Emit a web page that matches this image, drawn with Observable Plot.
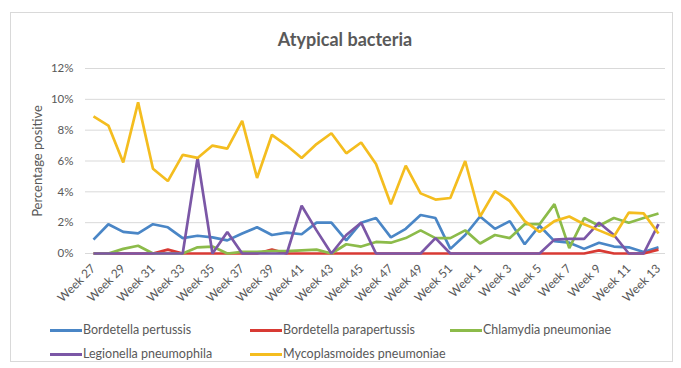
<!DOCTYPE html>
<html>
<head>
<meta charset="utf-8">
<script src="https://cdn.jsdelivr.net/npm/d3@7"></script>
<script src="https://cdn.jsdelivr.net/npm/@observablehq/plot@0.6"></script>
<style>
  html, body { margin: 0; padding: 0; background: #fff; font-family: Lato, "Open Sans", sans-serif; }
  #wrap { position: relative; width: 681px; height: 368px; overflow: hidden; background: #fff; }
  #frame { position: absolute; left: 10px; top: 12px; width: 663px; height: 350px; border: 1px solid #d9d9d9; box-sizing: border-box; }
  #title { position: absolute; left: 0; width: 690px; top: 28px; text-align: center; font-size: 18px; font-weight: 700; color: #595959; }
  #chart { position: absolute; left: 0; top: 0; }
  .leg { position: absolute; font-size: 12.5px; color: #595959; display: flex; align-items: center; white-space: nowrap; line-height: 1; }
  .leg .sw { display: inline-block; width: 32px; height: 3px; margin-right: 1px; }
</style>
</head>
<body>
<div id="wrap">
  <div id="frame"></div>
  <div id="title">Atypical bacteria</div>
  <div id="chart"></div>
  <div id="legend"></div>
</div>
<script>
const weeks = ["Week 27","Week 28","Week 29","Week 30","Week 31","Week 32","Week 33","Week 34","Week 35","Week 36",
  "Week 37","Week 38","Week 39","Week 40","Week 41","Week 42","Week 43","Week 44","Week 45","Week 46",
  "Week 47","Week 48","Week 49","Week 50","Week 51","Week 52","Week 1","Week 2","Week 3","Week 4",
  "Week 5","Week 6","Week 7","Week 8","Week 9","Week 10","Week 11","Week 12","Week 13"];
const xTickLabels = ["Week 27","Week 29","Week 31","Week 33","Week 35","Week 37","Week 39","Week 41","Week 43","Week 45",
  "Week 47","Week 49","Week 51","Week 1","Week 3","Week 5","Week 7","Week 9","Week 11","Week 13"];
const yTicks = [0, 2, 4, 6, 8, 10, 12];
const yLabel = "Percentage positive";

const seriesNames = ["Bordetella pertussis", "Bordetella parapertussis", "Chlamydia pneumoniae", "Legionella pneumophila", "Mycoplasmoides pneumoniae"];
const seriesColors = ["#4a86c6", "#d83a34", "#8cbb4a", "#7b57a6", "#f4bd1f"];

const pertussis = [0.9,1.9,1.4,1.3,1.9,1.7,1.0,1.15,1.05,0.85,1.3,1.7,1.2,1.35,1.25,2.0,2.0,0.85,2.0,2.3,1.05,1.6,2.5,2.3,0.3,1.2,2.4,1.6,2.1,0.6,1.8,0.8,0.7,0.3,0.7,0.45,0.4,0.1,0.4];
const parapertussis = [0,0,0,0,0,0.25,0,0,0,0,0,0,0.25,0,0,0,0,0,0,0,0,0,0,0,0,0,0,0,0,0,0,0,0,0,0.2,0,0,0,0.25];
const chlamydia = [0,0,0.3,0.5,0,0,0,0.4,0.45,0,0.1,0.1,0.15,0.15,0.2,0.25,0,0.6,0.45,0.75,0.7,1.0,1.5,1.0,1.0,1.5,0.65,1.2,1.0,1.9,1.9,3.2,0.35,2.3,1.8,2.3,2.0,2.3,2.6];
const legionella = [0,0,0,0,0,0,0,6.2,0,1.4,0,0,0,0,3.1,1.5,0,1.2,2.0,0,0,0,0,1.0,0,0,0,0,0,0,0,0.9,0.95,0.95,2.0,1.2,0,0,1.9];
const mycoplasma = [8.9,8.3,5.9,9.8,5.5,4.7,6.4,6.2,7.0,6.8,8.6,4.9,7.7,7.0,6.2,7.1,7.8,6.5,7.2,5.8,3.2,5.7,3.9,3.5,3.6,6.0,2.4,4.05,3.4,2.1,1.4,2.1,2.4,1.9,1.5,1.1,2.65,2.6,1.3];

const seriesValues = [pertussis, parapertussis, chlamydia, legionella, mycoplasma];
const data = [];
seriesValues.forEach((vals, s) => vals.forEach((v, i) => data.push({week: weeks[i], value: v, series: seriesNames[s]})));

const chart = Plot.plot({
  width: 681,
  height: 320,
  marginTop: 68,
  marginBottom: 67,
  marginLeft: 93,
  marginRight: 23,
  style: {fontFamily: "Lato, 'Open Sans', sans-serif", background: "transparent", overflow: "visible", color: "#595959"},
  x: {type: "point", domain: weeks, padding: 0},
  y: {domain: [0, 12]},
  color: {domain: seriesNames, range: seriesColors},
  marks: [
    Plot.ruleY(yTicks, {stroke: "#d9d9d9", strokeWidth: 1, insetLeft: -8, insetRight: -7}),
    Plot.axisY({ticks: yTicks, tickSize: 0, tickPadding: 20, tickFormat: d => d + "%", fontSize: 11.5, fill: "#595959", label: null}),
    Plot.text([yLabel], {text: d => d, frameAnchor: "left", textAnchor: "middle", rotate: -90, dx: -56, fontSize: 13, fill: "#595959"}),
    Plot.axisX({ticks: xTickLabels, tickSize: 0, tickRotate: -45, tickPadding: 13, fontSize: 12, fill: "#595959", label: null}),
    Plot.lineY(data, {x: "week", y: "value", stroke: "series", z: "series", strokeWidth: 2.7, strokeLinejoin: "miter", strokeLinecap: "butt"})
  ]
});
document.getElementById("chart").appendChild(chart);

// legend
const legendPos = [[50, 331], [250, 331], [450, 331], [50, 355], [250, 355]];
const legend = document.getElementById("legend");
seriesNames.forEach((name, i) => {
  const d = document.createElement("div");
  d.className = "leg";
  d.style.left = legendPos[i][0] + "px";
  d.style.top = (legendPos[i][1] - 7) + "px";
  d.innerHTML = `<span class="sw" style="background:${seriesColors[i]}"></span><span>${name}</span>`;
  legend.appendChild(d);
});
</script>
</body>
</html>
